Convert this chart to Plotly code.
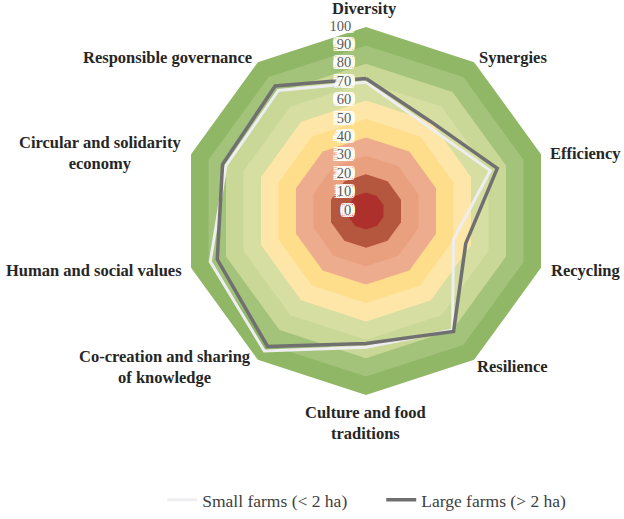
import plotly.graph_objs as go

# principles, clockwise from the top
principles = ["Diversity", "Synergies", "Efficiency", "Recycling", "Resilience",
              "Culture and food traditions", "Co-creation and sharing of knowledge",
              "Human and social values", "Circular and solidarity economy",
              "Responsible governance"]
small_farms = [70, 57, 71, 50, 80, 74, 94, 89, 80, 81]
large_farms = [72, 60, 75, 57, 81, 72, 91, 85, 82, 84]

# background score bands (outer edge of each band) and their colours
band_levels = [100, 90, 80, 70, 60, 50, 40, 30, 20, 10]
band_colors = ["#8FB765", "#A3C27A", "#C9D896", "#D7DEA2", "#FEE6A8",
               "#FEDD8B", "#EDAC8E", "#E9A07F", "#B5563F", "#AD302D"]
radial_ticks = [0, 10, 20, 30, 40, 50, 60, 70, 80, 90, 100]

# axis titles as printed round the chart (x, y in px of the 624x519 page)
label_text = ["Diversity", "Synergies", "Efficiency", "Recycling", "Resilience",
              "Culture and food<br>traditions", "Co-creation and sharing<br>of knowledge",
              "Human and social values", "Circular and solidarity<br>economy",
              "Responsible governance"]
label_pos = [(364, 8), (513, 57), (585, 153), (585, 270), (512, 366),
             (365, 423), (165, 367), (94, 270), (100, 153), (167, 57)]

serif = "Liberation Serif"
W, H = 624, 519
halo = ",".join("%dpx %dpx 0 white" % (dx, dy) for dx in (-4, -2, 0, 2, 4) for dy in (-2, 0, 2))

closed = principles + principles[:1]
data = []
for lvl, col in zip(band_levels, band_colors):
    data.append(go.Scatterpolar(
        r=[lvl] * len(closed), theta=closed,
        mode="lines", fill="toself", fillcolor=col, line=dict(width=0, color=col),
        showlegend=False, hoverinfo="skip"))

data.append(go.Scatterpolar(
    r=small_farms + small_farms[:1], theta=closed,
    mode="lines", name="Small farms (< 2 ha)", line=dict(color="#EEEEF0", width=3)))
data.append(go.Scatterpolar(
    r=large_farms + large_farms[:1], theta=closed,
    mode="lines", name="Large farms (> 2 ha)", line=dict(color="#707070", width=3.5)))

# radial scale numbers on the Diversity spoke
data.append(go.Scatterpolar(
    r=radial_ticks, theta=[principles[0]] * len(radial_ticks),
    mode="markers+text", text=[str(v) for v in radial_ticks], textposition="middle left",
    marker=dict(size=22, opacity=0), cliponaxis=False,
    textfont=dict(family=serif, size=14.5, color="#595959", shadow=halo),
    showlegend=False, hoverinfo="skip"))

annotations = [dict(text="<b>%s</b>" % t, x=x / W, y=1 - y / H, xref="paper", yref="paper",
                    showarrow=False, xanchor="center", yanchor="middle",
                    font=dict(family=serif, size=16.5, color="#262626"))
               for t, (x, y) in zip(label_text, label_pos)]

fig = go.Figure(data=data)
fig.update_layout(
    width=W, height=H,
    margin=dict(l=0, r=0, t=0, b=0),
    paper_bgcolor="white",
    font=dict(family=serif, color="#404040", size=14),
    polar=dict(
        domain=dict(x=[0.2917, 0.8814], y=[0.2389, 0.9480]),
        bgcolor="rgba(0,0,0,0)",
        angularaxis=dict(rotation=90, direction="clockwise", showgrid=False, showline=False,
                         ticks="", showticklabels=False),
        radialaxis=dict(range=[0, 100], showgrid=False, showline=False,
                        ticks="", showticklabels=False),
    ),
    annotations=annotations,
    legend=dict(orientation="h", x=0.26, xanchor="left", y=0.037, yanchor="middle",
                font=dict(family=serif, size=17.5, color="#404040"), entrywidth=174),
)
# drop the browser's default 8px body margin so the page matches the figure
fig.write_html("out.html", config={"displayModeBar": False},
               post_script="document.body.style.margin='0';")
